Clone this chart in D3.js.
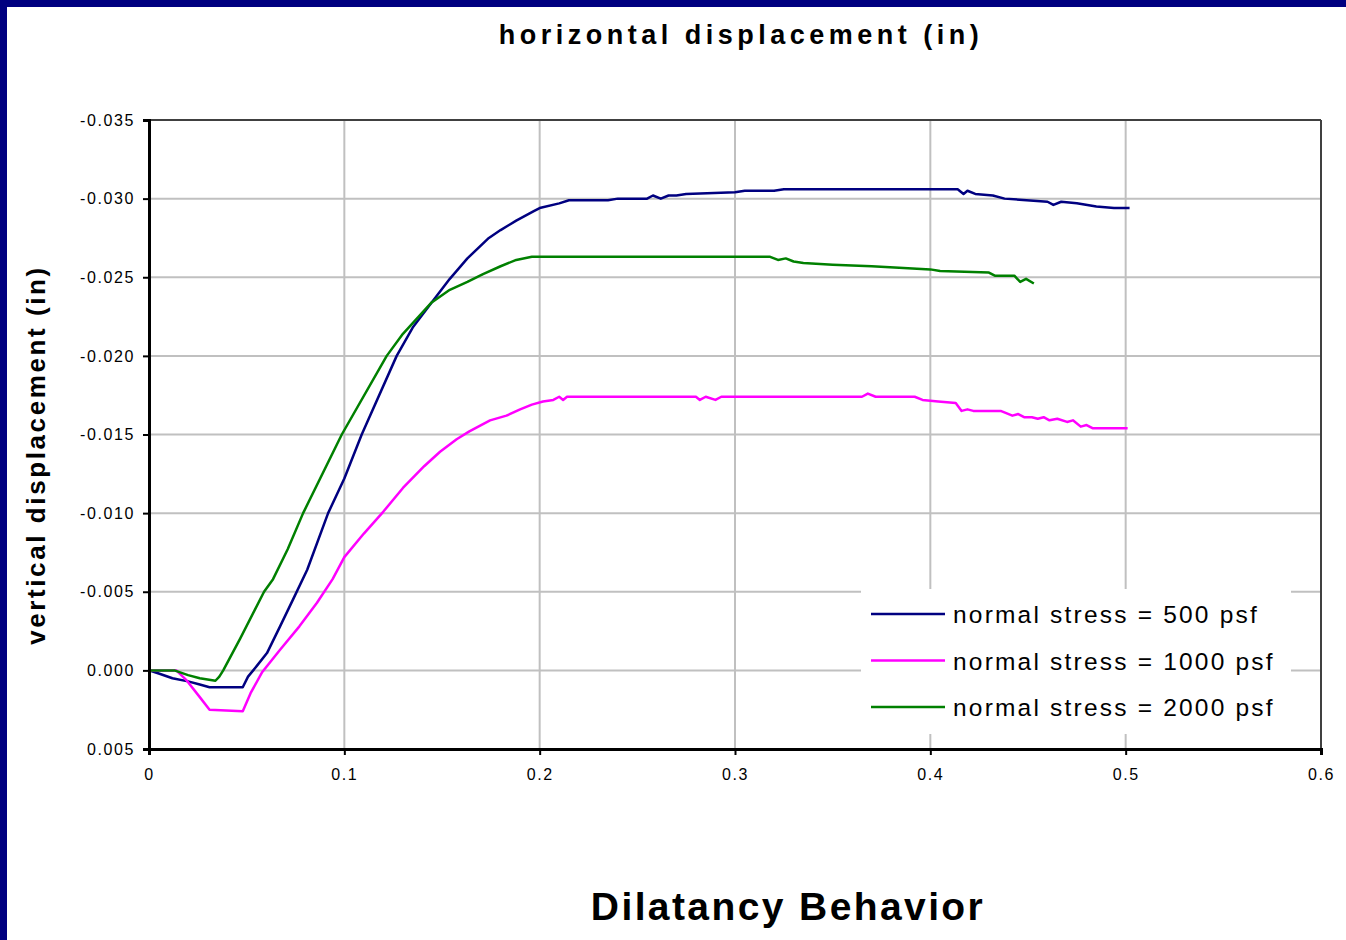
<!DOCTYPE html>
<html>
<head>
<meta charset="utf-8">
<script src="https://cdn.jsdelivr.net/npm/d3@7/dist/d3.min.js"></script>
<style>
  html, body { margin: 0; padding: 0; background: #fff; }
  svg { display: block; }
  text { font-family: Arial, "Liberation Sans", sans-serif; fill: #000; }
</style>
</head>
<body>
<svg id="chart" width="1346" height="940"></svg>
<script>
// ---------- data ----------
const xTicks = [0, 0.1, 0.2, 0.3, 0.4, 0.5, 0.6];
const xTickLabels = ["0", "0.1", "0.2", "0.3", "0.4", "0.5", "0.6"];
const yTicks = [-0.035, -0.030, -0.025, -0.020, -0.015, -0.010, -0.005, 0.000, 0.005];
const yTickLabels = ["-0.035", "-0.030", "-0.025", "-0.020", "-0.015", "-0.010", "-0.005", "0.000", "0.005"];

const seriesNames = ["normal stress = 500 psf", "normal stress = 1000 psf", "normal stress = 2000 psf"];
const seriesColors = ["#000080", "#ff00ff", "#008000"];

const x500 = [0, 0.005, 0.012, 0.020, 0.026, 0.031, 0.048, 0.0507, 0.0553, 0.0604, 0.0671, 0.0737, 0.081, 0.0917, 0.100, 0.1089, 0.1268, 0.135, 0.1447, 0.154, 0.163, 0.174, 0.180, 0.188, 0.197, 0.200, 0.210, 0.215, 0.235, 0.240, 0.255, 0.258, 0.262, 0.266, 0.270, 0.275, 0.300, 0.305, 0.320, 0.325, 0.414, 0.417, 0.419, 0.423, 0.432, 0.438, 0.460, 0.463, 0.467, 0.475, 0.485, 0.494, 0.502];
const y500 = [0, 0.0002, 0.0005, 0.0007, 0.0009, 0.00107, 0.00107, 0.0004, -0.0003, -0.0011, -0.0028, -0.0045, -0.0064, -0.0100, -0.0122, -0.0150, -0.0200, -0.0218, -0.0234, -0.0249, -0.0262, -0.0275, -0.0280, -0.0286, -0.0292, -0.0294, -0.0297, -0.0299, -0.0299, -0.0300, -0.0300, -0.0302, -0.0300, -0.0302, -0.0302, -0.0303, -0.0304, -0.0305, -0.0305, -0.0306, -0.0306, -0.0303, -0.0305, -0.0303, -0.0302, -0.0300, -0.0298, -0.0296, -0.0298, -0.0297, -0.0295, -0.0294, -0.0294];

const x1000 = [0, 0.014, 0.019, 0.026, 0.031, 0.048, 0.052, 0.058, 0.067, 0.077, 0.086, 0.094, 0.100, 0.110, 0.120, 0.130, 0.141, 0.149, 0.1575, 0.164, 0.1746, 0.183, 0.190, 0.196, 0.2017, 0.207, 0.210, 0.212, 0.214, 0.280, 0.282, 0.285, 0.290, 0.293, 0.365, 0.368, 0.372, 0.392, 0.396, 0.404, 0.413, 0.416, 0.419, 0.422, 0.436, 0.442, 0.445, 0.448, 0.452, 0.455, 0.458, 0.461, 0.465, 0.470, 0.473, 0.477, 0.480, 0.483, 0.501];
const y1000 = [0, 0, 0.0006, 0.0017, 0.0025, 0.0026, 0.00145, 0.0001, -0.0013, -0.0028, -0.0043, -0.0058, -0.0072, -0.0087, -0.0101, -0.0116, -0.0130, -0.0139, -0.0147, -0.0152, -0.0159, -0.0162, -0.0166, -0.0169, -0.0171, -0.0172, -0.0174, -0.0172, -0.0174, -0.0174, -0.0172, -0.0174, -0.0172, -0.0174, -0.0174, -0.0176, -0.0174, -0.0174, -0.0172, -0.0171, -0.0170, -0.0165, -0.0166, -0.0165, -0.0165, -0.0162, -0.0163, -0.0161, -0.0161, -0.0160, -0.0161, -0.0159, -0.0160, -0.0158, -0.0159, -0.0155, -0.0156, -0.0154, -0.0154];

const x2000 = [0, 0.013, 0.020, 0.026, 0.034, 0.036, 0.038, 0.0466, 0.0589, 0.0635, 0.071, 0.0789, 0.0987, 0.1217, 0.130, 0.1447, 0.154, 0.163, 0.171, 0.180, 0.188, 0.196, 0.318, 0.322, 0.326, 0.330, 0.335, 0.350, 0.370, 0.384, 0.400, 0.405, 0.430, 0.433, 0.443, 0.446, 0.449, 0.453];
const y2000 = [0, 0, 0.0003, 0.0005, 0.00066, 0.0004, 0, -0.0020, -0.0050, -0.0058, -0.0077, -0.0100, -0.0150, -0.0200, -0.0214, -0.0234, -0.0242, -0.0247, -0.0252, -0.0257, -0.0261, -0.0263, -0.0263, -0.0261, -0.0262, -0.0260, -0.0259, -0.0258, -0.0257, -0.0256, -0.0255, -0.0254, -0.0253, -0.0251, -0.0251, -0.0247, -0.0249, -0.0246];

// ---------- layout ----------
const svg = d3.select("#chart");
const W = 1346, H = 940;
const plot = { left: 149, right: 1321, top: 120, bottom: 749 };

svg.append("rect").attr("width", W).attr("height", H).attr("fill", "#fff");
// navy frame (left + top)
svg.append("rect").attr("x", 0).attr("y", 0).attr("width", 7).attr("height", H).attr("fill", "#000080");
svg.append("rect").attr("x", 0).attr("y", 0).attr("width", W).attr("height", 7).attr("fill", "#000080");

const x = d3.scaleLinear().domain([0, 0.6]).range([plot.left, plot.right]);
const y = d3.scaleLinear().domain([0.005, -0.035]).range([plot.bottom, plot.top]);

// gridlines
const grid = svg.append("g");
grid.selectAll("line.h").data(yTicks.slice(1, -1)).enter().append("line")
  .attr("x1", plot.left).attr("x2", plot.right)
  .attr("y1", d => y(d)).attr("y2", d => y(d))
  .attr("stroke", "#c0c0c0").attr("stroke-width", 2);
grid.selectAll("line.v").data(xTicks.slice(1, -1)).enter().append("line")
  .attr("y1", plot.top).attr("y2", plot.bottom)
  .attr("x1", d => x(d)).attr("x2", d => x(d))
  .attr("stroke", "#c0c0c0").attr("stroke-width", 2);

// top & right border
svg.append("line").attr("x1", plot.left).attr("x2", plot.right).attr("y1", plot.top).attr("y2", plot.top)
  .attr("stroke", "#404040").attr("stroke-width", 2);
svg.append("line").attr("x1", plot.right).attr("x2", plot.right).attr("y1", plot.top).attr("y2", plot.bottom)
  .attr("stroke", "#404040").attr("stroke-width", 2);

// legend background (drawn before series? legend covers gridlines only)
const legend = svg.append("g");
legend.append("rect").attr("x", 861).attr("y", 589).attr("width", 430).attr("height", 145).attr("fill", "#fff");

// series
const line = d3.line().x(d => x(d[0])).y(d => y(d[1]));
const seriesData = [
  d3.zip(x500, y500),
  d3.zip(x1000, y1000),
  d3.zip(x2000, y2000)
];
svg.append("g").selectAll("path").data(seriesData).enter().append("path")
  .attr("d", line)
  .attr("fill", "none")
  .attr("stroke", (d, i) => seriesColors[i])
  .attr("stroke-width", 2.5)
  .attr("stroke-linejoin", "round");

// axes
const yAxis = d3.axisLeft(y).tickValues(yTicks).tickFormat((d, i) => yTickLabels[i]).tickSize(6).tickPadding(8);
const gy = svg.append("g").attr("transform", `translate(${plot.left},0)`).call(yAxis);
gy.select(".domain").attr("stroke", "#000").attr("stroke-width", 3);
gy.selectAll(".tick line").attr("stroke", "#000").attr("stroke-width", 2);
gy.selectAll(".tick text").attr("font-size", 16).attr("letter-spacing", "1.6px")
  .attr("font-family", "Arial, 'Liberation Sans', sans-serif").attr("fill", "#000");

const xAxis = d3.axisBottom(x).tickValues(xTicks).tickFormat((d, i) => xTickLabels[i]).tickSize(6).tickPadding(14);
const gx = svg.append("g").attr("transform", `translate(0,${plot.bottom})`).call(xAxis);
gx.select(".domain").attr("stroke", "#000").attr("stroke-width", 3);
gx.selectAll(".tick line").attr("stroke", "#000").attr("stroke-width", 2);
gx.selectAll(".tick text").attr("font-size", 16).attr("letter-spacing", "1.6px")
  .attr("font-family", "Arial, 'Liberation Sans', sans-serif").attr("fill", "#000");

// legend entries
const rows = legend.selectAll("g.row").data(seriesNames).enter().append("g")
  .attr("transform", (d, i) => `translate(0,${614 + i * 46.5})`);
rows.append("line").attr("x1", 871).attr("x2", 945).attr("y1", 0).attr("y2", 0)
  .attr("stroke", (d, i) => seriesColors[i]).attr("stroke-width", 2.5);
rows.append("text").attr("x", 953).attr("y", 9).attr("font-size", 24.5).attr("letter-spacing", "2.2px")
  .text(d => d);

// titles
svg.append("text").attr("x", 741).attr("y", 44).attr("text-anchor", "middle")
  .attr("font-size", 27).attr("font-weight", "bold").attr("letter-spacing", "4.5px")
  .text("horizontal displacement (in)");
svg.append("text").attr("transform", "translate(45,455) rotate(-90)").attr("text-anchor", "middle")
  .attr("font-size", 26).attr("font-weight", "bold").attr("letter-spacing", "2.6px")
  .text("vertical displacement (in)");
svg.append("text").attr("x", 788).attr("y", 920).attr("text-anchor", "middle")
  .attr("font-size", 39).attr("font-weight", "bold").attr("letter-spacing", "2.4px")
  .text("Dilatancy Behavior");
</script>
</body>
</html>
